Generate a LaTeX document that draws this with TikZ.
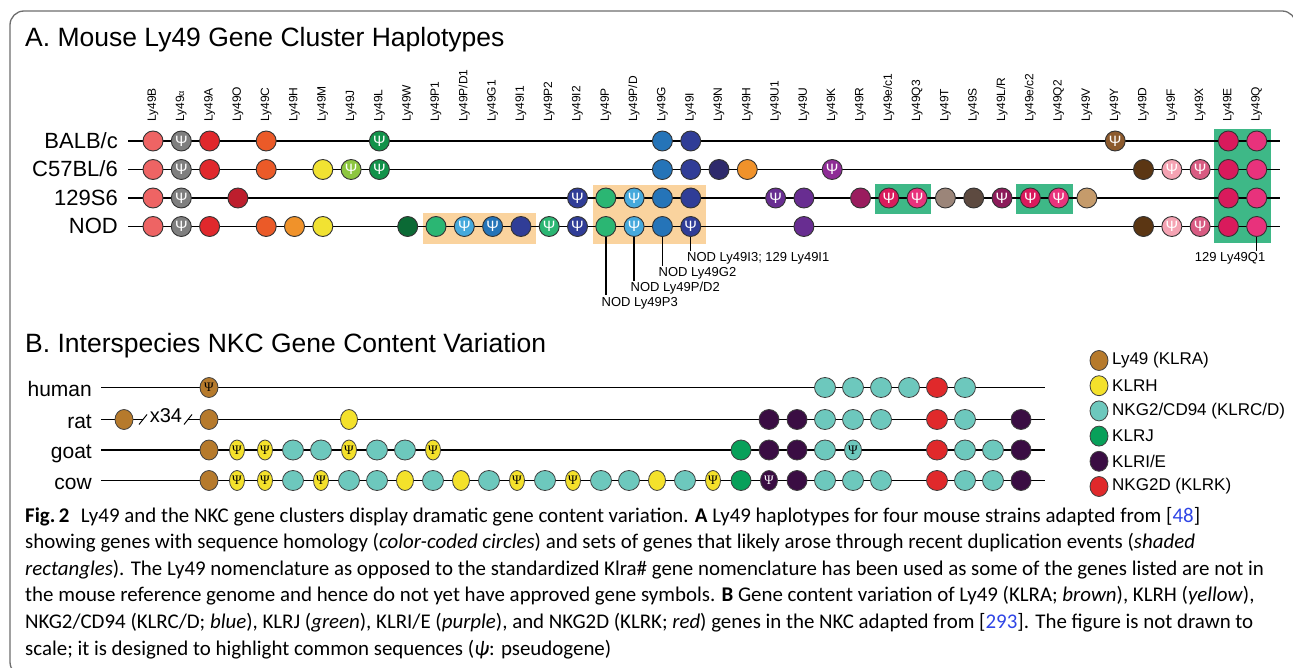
\documentclass[tikz,border=0pt]{standalone}
\usepackage{fontspec}
\setmainfont{Liberation Sans}
\newfontfamily\capfont{Carlito}
\newfontfamily\psiserif{Liberation Serif}
\usetikzlibrary{shapes.geometric,calc}
\pgfdeclarelayer{bg}
\pgfdeclarelayer{mid}
\pgfsetlayers{bg,mid,main}

% haplotype gene colours
\definecolor{salB}{HTML}{EE6464}
\definecolor{grayA}{HTML}{7F7F7F}
\definecolor{redA}{HTML}{E0282C}
\definecolor{drO}{HTML}{BD1E2D}
\definecolor{orC}{HTML}{EB5A28}
\definecolor{orH}{HTML}{F0922A}
\definecolor{yeM}{HTML}{F1E232}
\definecolor{lgJ}{HTML}{8DC63F}
\definecolor{grL}{HTML}{12924A}
\definecolor{dgW}{HTML}{0B6A35}
\definecolor{mgP}{HTML}{2BB673}
\definecolor{lbPD}{HTML}{46A9DC}
\definecolor{blG}{HTML}{2574B8}
\definecolor{navI}{HTML}{303D97}
\definecolor{indN}{HTML}{2E2A6C}
\definecolor{puK}{HTML}{8E2C96}
\definecolor{viU}{HTML}{682D91}
\definecolor{plR}{HTML}{9A1C5E}
\definecolor{crE}{HTML}{D91A5C}
\definecolor{pkQ}{HTML}{E8327C}
\definecolor{taT}{HTML}{9B8579}
\definecolor{dtS}{HTML}{5D4A40}
\definecolor{maLR}{HTML}{8C1B5A}
\definecolor{tnV}{HTML}{C59B6B}
\definecolor{brY}{HTML}{8C5A2D}
\definecolor{dbD}{HTML}{5B3613}
\definecolor{lpF}{HTML}{F5A3B3}
\definecolor{roX}{HTML}{D85B82}
\definecolor{peach}{HTML}{FAD39E}
\definecolor{boxgreen}{HTML}{3EB887}
% NKC family colours
\definecolor{bBrown}{HTML}{B67A2C}
\definecolor{bYellow}{HTML}{F4E12B}
\definecolor{bTeal}{HTML}{6DC8BD}
\definecolor{bGreen}{HTML}{08A05A}
\definecolor{bPurple}{HTML}{3A0D43}
\definecolor{bRed}{HTML}{E0292B}
\definecolor{refblue}{HTML}{2F45E6}
\definecolor{framegray}{HTML}{6E6E6E}

% one haplotype row: #1 row number, #2 y, #3 list col/colour/pseudogene
\newcommand\haprow[3]{%
  \foreach \cc/\cl/\p in {#3}{%
    \node[gA=\cl] (a#1-\cc) at ({153+28.3*(\cc-1)},#2) {\ifnum\p=1 Ψ\fi};}}
% one species row: #1 name, #2 y, #3 list slot/colour/width/pseudogene
\newcommand\nkcrow[3]{%
  \foreach \i/\cl/\w/\p in {#3}{%
    \node[gB=\cl, minimum width=\w pt] (b#1-\i) at ({209+28*\i},#2)
      {\ifcase\p\or Ψ\or\textcolor{white}{Ψ}\fi};}}

\begin{document}
\begin{tikzpicture}[x=1pt,y=-1pt,
  frame/.style={draw=framegray, line width=1.3pt, rounded corners=14pt},
  titletext/.style={anchor=base west, inner sep=0pt, font=\fontsize{26.5}{30}\selectfont},
  glab/.style={rotate=90, anchor=west, inner sep=0pt, font=\fontsize{12}{12}\selectfont},
  rowA/.style={anchor=base east, inner sep=0pt, font=\fontsize{22}{22}\selectfont},
  rowB/.style={anchor=base east, inner sep=0pt, font=\fontsize{21}{21}\selectfont},
  rowline/.style={draw=black, line width=1.8pt},
  gA/.style={circle, draw=black!80, line width=0.9pt, minimum size=20pt,
    inner sep=0pt, fill=#1, text=white, font=\fontsize{15}{15}\selectfont},
  gB/.style={ellipse, draw=black!75, line width=0.8pt, minimum height=20pt,
    inner sep=0pt, fill=#1, font=\psiserif\fontsize{13}{13}\selectfont},
  annot/.style={anchor=base west, inner sep=1.5pt, font=\fontsize{13}{13}\selectfont},
  annline/.style={draw=black, line width=1.5pt},
  legtext/.style={anchor=west, inner sep=0pt, font=\fontsize{17}{17}\selectfont},
  captext/.style={anchor=base west, inner sep=0pt, font=\capfont\fontsize{20.9}{22}\selectfont}]

\useasboundingbox (0,0) rectangle (1293,668);
\begin{pgfonlayer}{bg}
  \fill[white] (0,0) rectangle (1293,668);
\end{pgfonlayer}
\draw[frame] (10,11) rectangle (1296,676);

% ---------- A: mouse Ly49 haplotypes ----------
\node[titletext] (tA) at (25,47) {A. Mouse Ly49 Gene Cluster Haplotypes};

\foreach \g [count=\cc] in {Ly49B, Ly49{\fontsize{9}{9}\selectfont α}, Ly49A, Ly49O, Ly49C,
  Ly49H, Ly49M, Ly49J, Ly49L, Ly49W, Ly49P1, Ly49P/D1, Ly49G1, Ly49I1, Ly49P2,
  Ly49I2, Ly49P, Ly49P/D, Ly49G, Ly49I, Ly49N, Ly49H, Ly49U1, Ly49U, Ly49K,
  Ly49R, Ly49e/c1, Ly49Q3, Ly49T, Ly49S, Ly49L/R, Ly49e/c2, Ly49Q2, Ly49V,
  Ly49Y, Ly49D, Ly49F, Ly49X, Ly49E, Ly49Q}
  \node[glab] (gl\cc) at ({153+28.3*(\cc-1)},122) {\g};

\node[rowA] (r1) at (118,148.5) {BALB/c};
\node[rowA] (r2) at (118,177) {C57BL/6};
\node[rowA] (r3) at (118,205.5) {129S6};
\node[rowA] (r4) at (118,234) {NOD};

\foreach \r/\y in {1/141,2/169.5,3/198,4/226.5}{
  \coordinate (sA\r) at (128,\y);
  \coordinate (eA\r) at (1280,\y);
}

\haprow{1}{141}{1/salB/0, 2/grayA/1, 3/redA/0, 5/orC/0, 9/grL/1, 19/blG/0,
  20/navI/0, 35/brY/1, 39/crE/0, 40/pkQ/0}
\haprow{2}{169.5}{1/salB/0, 2/grayA/1, 3/redA/0, 5/orC/0, 7/yeM/0, 8/lgJ/1,
  9/grL/1, 19/blG/0, 20/navI/0, 21/indN/0, 22/orH/0, 25/puK/1, 36/dbD/0,
  37/lpF/1, 38/roX/1, 39/crE/0, 40/pkQ/0}
\haprow{3}{198}{1/salB/0, 2/grayA/1, 4/drO/0, 16/navI/1, 17/mgP/0, 18/lbPD/1,
  19/blG/0, 20/navI/0, 23/viU/1, 24/viU/0, 26/plR/0, 27/crE/1, 28/pkQ/1,
  29/taT/0, 30/dtS/0, 31/maLR/1, 32/crE/1, 33/pkQ/1, 34/tnV/0, 39/crE/0, 40/pkQ/0}
\haprow{4}{226.5}{1/salB/0, 2/grayA/1, 3/redA/0, 5/orC/0, 6/orH/0, 7/yeM/0,
  10/dgW/0, 11/mgP/0, 12/lbPD/1, 13/blG/1, 14/navI/0, 15/mgP/1, 16/navI/1,
  17/mgP/0, 18/lbPD/1, 19/blG/0, 20/navI/1, 24/viU/0, 36/dbD/0, 37/lpF/1,
  38/roX/1, 39/crE/0, 40/pkQ/0}

\begin{pgfonlayer}{mid}
  \foreach \r in {1,...,4} \draw[rowline] (sA\r) -- (eA\r);
\end{pgfonlayer}

% duplication blocks
\begin{pgfonlayer}{bg}
  \fill[peach] ($(a4-11)+(-13,-13)$) rectangle ($(a4-14)+(15,18)$);
  \fill[peach] ($(a3-17)+(-13,-13)$) rectangle ($(a4-20)+(15,18)$);
  \fill[boxgreen] ($(a3-27)+(-14,-14)$) rectangle ($(a3-28)+(14,16)$);
  \fill[boxgreen] ($(a3-32)+(-14,-14)$) rectangle ($(a3-33)+(14,16)$);
  \fill[boxgreen] ($(a1-39)+(-14,-12)$) rectangle ($(a4-40)+(14,17)$);
\end{pgfonlayer}

% NOD / 129 paralogue names
\node[annot] (t20) at (685.5,262) {NOD Ly49I3; 129 Ly49I1};
\node[annot] (t19) at (657,277) {NOD Ly49G2};
\node[annot] (t18) at (629,292) {NOD Ly49P/D2};
\node[annot] (t17) at (600,306) {NOD Ly49P3};
\node[annot, anchor=base east] (tq) at (1267,262) {129 Ly49Q1};
\draw[annline] (a4-20.south) -- (a4-20.south |- t20.north);
\draw[annline] (a4-19.south) -- (a4-19.south |- t19.north);
\draw[annline] (a4-18.south) -- (a4-18.south |- t18.north);
\draw[annline] (a4-17.south) -- (a4-17.south |- t17.north);
\draw[annline] (a4-40.south) -- (a4-40.south |- tq.north);

% ---------- B: NKC content across species ----------
\node[titletext] (tB) at (25,352.5) {B. Interspecies NKC Gene Content Variation};

\node[rowB] (hu) at (92,396) {human};
\node[rowB] (ra) at (92,428) {rat};
\node[rowB] (go) at (92,458.5) {goat};
\node[rowB] (co) at (92,489) {cow};

\foreach \s/\y in {hu/387.5,go/450,co/480.5}{
  \coordinate (sB\s) at (101,\y);
  \coordinate (eB\s) at (1045,\y);
}
\coordinate (sBra) at (101,419.5);
\coordinate (mBra1) at (143,419.5);
\coordinate (mBra2) at (188,419.5);
\coordinate (eBra) at (1045,419.5);

\begin{pgfonlayer}{mid}
  \foreach \s in {hu,go,co} \draw[rowline] (sB\s) -- (eB\s);
  \draw[rowline] (sBra) -- (mBra1);
  \draw[rowline] (mBra2) -- (eBra);
  \draw[line width=1pt] ($(mBra1)+(-4,5)$) -- ($(mBra1)+(4,-5)$);
  \draw[line width=1pt] ($(mBra2)+(-4,5)$) -- ($(mBra2)+(4,-5)$);
\end{pgfonlayer}
\node[font=\fontsize{20}{20}\selectfont, inner sep=0pt] (x34) at (166,416) {x34};

\node[gB=bBrown, minimum width=18pt] (bra-x) at (124,419.5) {};
\nkcrow{hu}{387.5}{0/bBrown/18/1, 22/bTeal/21/0, 23/bTeal/21/0, 24/bTeal/21/0,
  25/bTeal/21/0, 26/bRed/21/0, 27/bTeal/21/0}
\nkcrow{ra}{419.5}{0/bBrown/18/0, 5/bYellow/17/0, 20/bPurple/20/0, 21/bPurple/20/0,
  22/bTeal/21/0, 23/bTeal/21/0, 24/bTeal/21/0, 26/bRed/21/0, 27/bTeal/21/0,
  29/bPurple/20/0}
\nkcrow{go}{450}{0/bBrown/18/0, 1/bYellow/15/1, 2/bYellow/15/1, 3/bTeal/21/0,
  4/bTeal/21/0, 5/bYellow/15/1, 6/bTeal/21/0, 7/bTeal/21/0, 8/bYellow/15/1,
  19/bGreen/20/0, 20/bPurple/20/0, 21/bPurple/20/0, 22/bTeal/21/0, 23/bTeal/17/1,
  26/bRed/21/0, 27/bTeal/21/0, 28/bTeal/21/0, 29/bPurple/20/0}
\nkcrow{co}{480.5}{0/bBrown/18/0, 1/bYellow/15/1, 2/bYellow/15/1, 3/bTeal/21/0,
  4/bYellow/15/1, 5/bTeal/21/0, 6/bTeal/21/0, 7/bYellow/17/0, 8/bTeal/21/0,
  9/bYellow/17/0, 10/bTeal/21/0, 11/bYellow/15/1, 12/bTeal/21/0, 13/bYellow/15/1,
  14/bTeal/21/0, 15/bTeal/21/0, 16/bYellow/17/0, 17/bTeal/21/0, 18/bYellow/15/1,
  19/bGreen/20/0, 20/bPurple/17/2, 21/bPurple/20/0, 22/bTeal/21/0, 23/bTeal/21/0,
  24/bTeal/21/0, 26/bRed/21/0, 27/bTeal/21/0, 28/bTeal/21/0, 29/bPurple/20/0}

% legend
\node[gB=bBrown, minimum width=18pt] (k1) at (1099,360.5) {};
\node[gB=bYellow, minimum width=18pt] (k2) at (1099,385.7) {};
\node[gB=bTeal, minimum width=18pt] (k3) at (1099,410.9) {};
\node[gB=bGreen, minimum width=18pt] (k4) at (1099,436.1) {};
\node[gB=bPurple, minimum width=18pt] (k5) at (1099,461.3) {};
\node[gB=bRed, minimum width=18pt] (k6) at (1099,486.5) {};
\node[legtext] (l1) at (1112,360.5) {Ly49 (KLRA)};
\node[legtext] (l2) at (1112,385.7) {KLRH};
\node[legtext] (l3) at (1112,410.9) {NKG2/CD94 (KLRC/D)};
\node[legtext] (l4) at (1112,436.1) {KLRJ};
\node[legtext] (l5) at (1112,461.3) {KLRI/E};
\node[legtext] (l6) at (1112,486.5) {NKG2D (KLRK)};

% ---------- caption ----------
\node[captext] (c1) at (25,522) {\textbf{Fig.\,2}\hspace{0.55em}Ly49 and the NKC gene clusters display dramatic gene content variation. \textbf{A} Ly49 haplotypes for four mouse strains adapted from [\textcolor{refblue}{48}]};
\node[captext] (c2) at (25,548.6) {showing genes with sequence homology (\textit{color-coded circles}) and sets of genes that likely arose through recent duplication events (\textit{shaded}};
\node[captext] (c3) at (25,575.2) {\textit{rectangles}). The Ly49 nomenclature as opposed to the standardized Klra\# gene nomenclature has been used as some of the genes listed are not in};
\node[captext] (c4) at (25,601.8) {the mouse reference genome and hence do not yet have approved gene symbols. \textbf{B} Gene content variation of Ly49 (KLRA; \textit{brown}), KLRH (\textit{yellow}),};
\node[captext] (c5) at (25,628.4) {NKG2/CD94 (KLRC/D; \textit{blue}), KLRJ (\textit{green}), KLRI/E (\textit{purple}), and NKG2D (KLRK; \textit{red}) genes in the NKC adapted from [\textcolor{refblue}{293}]. The figure is not drawn to};
\node[captext] (c6) at (25,655) {scale; it is designed to highlight common sequences (\textit{ψ}: pseudogene)};
\end{tikzpicture}
\end{document}
